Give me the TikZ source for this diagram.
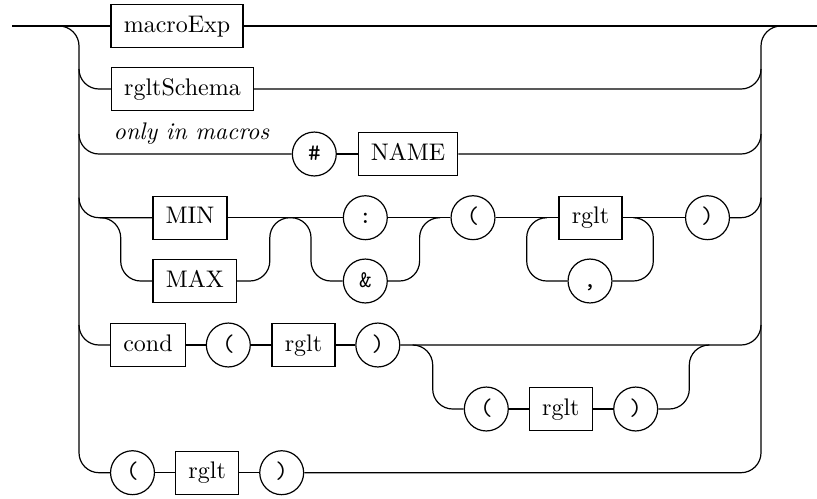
\documentclass[tikz,border=0pt]{standalone}
\usetikzlibrary{calc}
\begin{document}
\begin{tikzpicture}[x=0.41667pt,y=-0.41667pt,
  nonterm/.style={draw, rectangle, inner xsep=5.3pt, inner ysep=0pt,
    minimum height=17.9pt, text height=6.94pt, text depth=1.94pt},
  term/.style={draw, circle, inner sep=0pt, minimum size=18.3pt,
    text height=6.94pt, text depth=1.94pt, font=\ttfamily},
  rail/.style={rounded corners=8.33pt},
  line width=0.5pt]
\useasboundingbox (0,0) rectangle (817,498);

% rails and junction points
\coordinate (in) at (12,26);
\coordinate (out) at (817,26);
\coordinate (lsplit) at (59,26);
\coordinate (lrail) at (79,26);
\coordinate (rrail) at (761,26);
\coordinate (rjoin) at (781,26);

% row 1
\node[nonterm] (mexp) at (177,26) {macroExp};
% row 2
\node[nonterm] (schema) at (182.5,89) {rgltSchema};
% row 3
\node[inner sep=0pt, font=\itshape] (note) at (191.5,133.3) {only in macros};
\node[term] (hash) at (314.3,154) {\#};
\node[nonterm] (name) at (408,154) {NAME};
% row 4
\node[nonterm] (min) at (190,217.7) {MIN};
\node[nonterm] (max) at (194.8,281) {MAX};
\node[term] (colon) at (365.3,217.7) {:};
\node[term] (amp) at (365.3,281) {\&};
\node[term] (lp1) at (473,217.7) {(};
\node[nonterm] (r1) at (590.5,217.7) {rglt};
\node[term] (comma) at (590,281) {,};
\node[term] (rp1) at (707.5,217.7) {)};
% row 5
\node[nonterm] (cond) at (148,345) {cond};
\node[term] (lp2) at (228.3,345) {(};
\node[nonterm] (r2) at (303.5,345) {rglt};
\node[term] (rp2) at (377.8,345) {)};
\node[term] (lp3) at (486.3,409) {(};
\node[nonterm] (r3) at (560.8,409) {rglt};
\node[term] (rp3) at (635.7,409) {)};
% row 6
\node[term] (lp4) at (132.5,472.7) {(};
\node[nonterm] (r4) at (207.2,472.7) {rglt};
\node[term] (rp4) at (281.7,472.7) {)};

% main line
\draw (in) -- (mexp.west);
\draw (mexp.east) -- (out);

% left and right rails (with the last row)
\draw[rail] (lsplit) -| (lp4.west -| lrail) -- (lp4.west);
\draw[rail] (rp4.east) -| (rrail) -- (rjoin);

% row 2
\draw[rail] ($(schema.west -| lrail)+(0,-20)$) |- (schema.west);
\draw[rail] (schema.east) -| ($(schema.east -| rrail)+(0,-20)$);

% row 3
\draw[rail] ($(hash.west -| lrail)+(0,-20)$) |- (hash.west);
\draw (hash) -- (name);
\draw[rail] (name.east) -| ($(name.east -| rrail)+(0,-20)$);

% row 4
\coordinate (mmsplit) at (100,217.7);
\coordinate (mmjoin) at (290,217.7);
\coordinate (cajoin) at (440,217.7);
\coordinate (loopl) at (546.7,217.7);
\coordinate (loopr) at (633.3,217.7);
\draw[rail] ($(min.west -| lrail)+(0,-20)$) |- (min.west);
\draw (min.east) -- (colon.west);
\draw[rail] (mmsplit) -| (120.7,281) -- (max.west);
\draw[rail] (max.east) -| (269.8,217.7) -- (mmjoin);
\draw[rail] (mmjoin) -| (311,281) -- (amp.west);
\draw[rail] (amp.east) -| (419.6,217.7) -- (cajoin);
\draw (colon) -- (lp1);
\draw (lp1) -- (r1);
\draw[rail] (loopl) -| (526.7,281) -- (comma.west);
\draw[rail] (loopr) -| (653.3,281) -- (comma.east);
\draw (r1) -- (rp1);
\draw[rail] (rp1.east) -| ($(rp1.east -| rrail)+(0,-20)$);

% row 5
\coordinate (csplit) at (412.7,345);
\coordinate (cjoin) at (709.3,345);
\draw[rail] ($(cond.west -| lrail)+(0,-20)$) |- (cond.west);
\draw (cond) -- (lp2);
\draw (lp2) -- (r2);
\draw (r2) -- (rp2);
\draw[rail] (rp2.east) -| ($(rp2.east -| rrail)+(0,-20)$);
\draw[rail] (csplit) -| (432.7,409) -- (lp3.west);
\draw (lp3) -- (r3);
\draw (r3) -- (rp3);
\draw[rail] (rp3.east) -| (689.3,345) -- (cjoin);

% row 6
\draw (lp4) -- (r4);
\draw (r4) -- (rp4);
\end{tikzpicture}
\end{document}
